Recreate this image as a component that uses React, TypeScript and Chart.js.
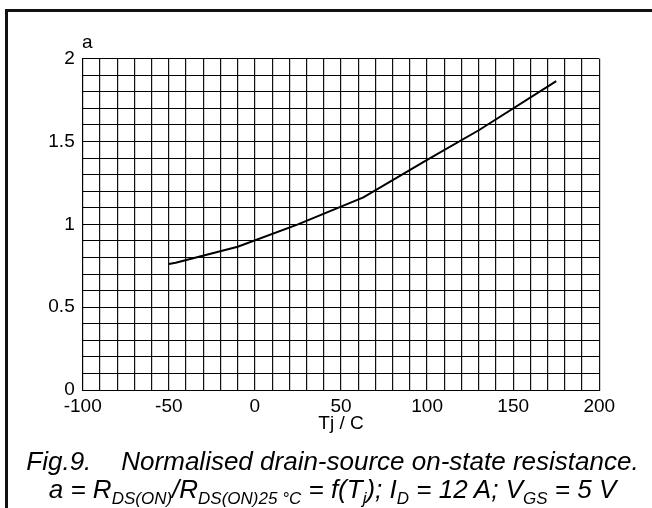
import React, { useEffect, useRef } from "react";
import { Chart, registerables } from "chart.js";

Chart.register(...registerables);

// Junction temperature (°C) and normalised on-state resistance a
const tempValues = [-50, -46, -10, 25, 63, 100, 130, 175];
const ratioValues = [0.76, 0.768, 0.865, 1.0, 1.163, 1.389, 1.568, 1.865];

const xTickLabels = [-100, -50, 0, 50, 100, 150, 200];
const yTickLabels = [0, 0.5, 1, 1.5, 2];

const FONT = "'Liberation Sans', Arial, Helvetica, sans-serif";

export default function App() {
  const ref = useRef<HTMLCanvasElement | null>(null);

  useEffect(() => {
    if (!ref.current) return;
    const chart = new Chart(ref.current, {
      type: "line",
      data: {
        datasets: [
          {
            data: tempValues.map((t, i) => ({ x: t, y: ratioValues[i] })),
            borderColor: "#000",
            borderWidth: 2,
            pointRadius: 0,
            tension: 0,
            fill: false,
          },
        ],
      },
      options: {
        responsive: false,
        animation: false,
        layout: { padding: { top: 58.7, right: 52.7, left: 0, bottom: 0 } },
        plugins: { legend: { display: false }, tooltip: { enabled: false } },
        scales: {
          x: {
            type: "linear",
            min: -100,
            max: 200,
            afterFit: (s: any) => {
              s.height = 118;
            },
            grid: { color: "#111", lineWidth: 1.2, drawTicks: false },
            border: { color: "#000", width: 1 },
            ticks: {
              stepSize: 10,
              autoSkip: false,
              maxRotation: 0,
              padding: 5,
              color: "#000",
              font: { family: FONT, size: 19 },
              callback: (v: any) => {
                const n = Math.round(Number(v));
                return xTickLabels.includes(n) ? String(n) : "";
              },
            },
            title: {
              display: true,
              text: "Tj / C",
              color: "#000",
              font: { family: FONT, size: 19 },
              padding: { top: 0, bottom: 73 },
            },
          },
          y: {
            type: "linear",
            min: 0,
            max: 2,
            afterFit: (s: any) => {
              s.width = 82.7;
            },
            grid: { color: "#000", lineWidth: 1, drawTicks: false },
            border: { color: "#000", width: 1 },
            ticks: {
              stepSize: 0.1,
              autoSkip: false,
              padding: 8,
              color: "#000",
              font: { family: FONT, size: 19 },
              callback: (v: any) => {
                const n = Math.round(Number(v) * 10) / 10;
                return yTickLabels.includes(n) ? String(n) : "";
              },
            },
          },
        },
      },
    });
    return () => chart.destroy();
  }, []);

  const sub: React.CSSProperties = {
    fontSize: 17,
    position: "relative",
    top: 6,
  };

  return (
    <div
      style={{
        position: "fixed",
        left: 0,
        top: 0,
        width: 652,
        height: 508,
        background: "#fff",
        overflow: "hidden",
        fontFamily: FONT,
        color: "#000",
      }}
    >
      <div
        style={{
          position: "absolute",
          left: 5,
          top: 9,
          width: 700,
          height: 600,
          borderLeft: "3px solid #111",
          borderTop: "3px solid #111",
        }}
      />
      <canvas
        ref={ref}
        width={652}
        height={508}
        style={{ position: "absolute", left: 0, top: 0, width: 652, height: 508 }}
      />
      <div
        style={{
          position: "absolute",
          left: 82,
          top: 32,
          fontSize: 19,
          lineHeight: "19px",
        }}
      >
        a
      </div>
      <div
        style={{
          position: "absolute",
          left: 0,
          width: 665,
          top: 448,
          textAlign: "center",
          fontSize: 26,
          lineHeight: "26px",
          fontStyle: "italic",
          whiteSpace: "nowrap",
        }}
      >
        Fig.9.<span style={{ display: "inline-block", width: 30 }} />
        Normalised drain-source on-state resistance.
      </div>
      <div
        style={{
          position: "absolute",
          left: 0,
          width: 665,
          top: 476,
          textAlign: "center",
          fontSize: 26,
          lineHeight: "26px",
          fontStyle: "italic",
          whiteSpace: "nowrap",
        }}
      >
        a = R<span style={sub}>DS(ON)</span>/R<span style={sub}>DS(ON)25 °C</span> = f(T
        <span style={sub}>j</span>); I<span style={sub}>D</span> = 12 A; V
        <span style={sub}>GS</span> = 5 V
      </div>
    </div>
  );
}
